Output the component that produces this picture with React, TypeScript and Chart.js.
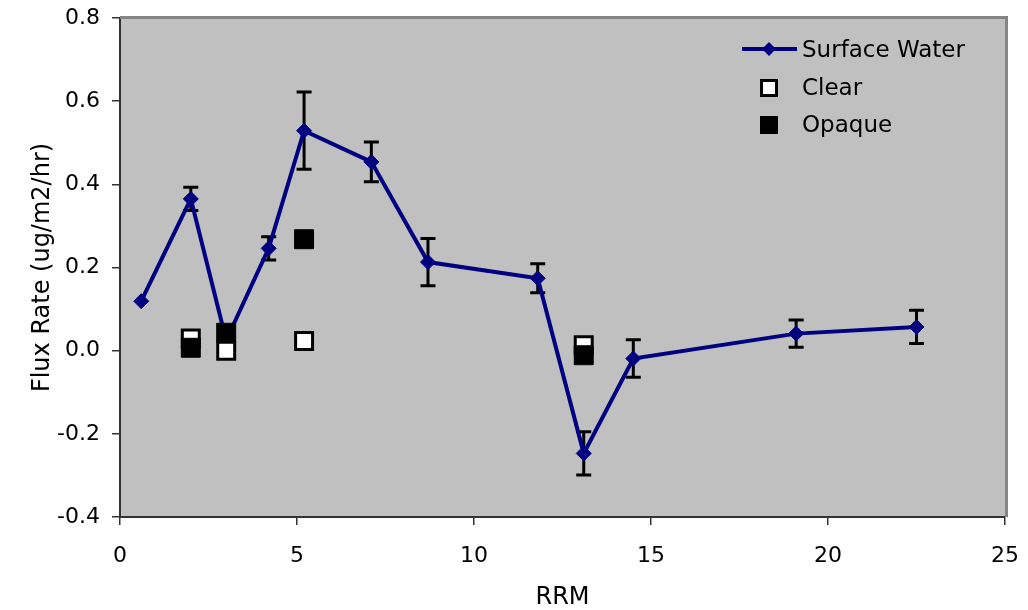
import React, { useEffect, useRef } from "react";
import { Chart, registerables } from "chart.js";

Chart.register(...registerables);

// ---- Data ----
const surfaceX = [0.6, 2.0, 3.0, 4.2, 5.2, 7.1, 8.7, 11.8, 13.1, 14.5, 19.1, 22.5];
const surfaceY = [0.119, 0.365, 0.025, 0.246, 0.529, 0.454, 0.213, 0.174, -0.247, -0.019, 0.041, 0.057];
const surfaceErr = [0, 0.028, 0.02, 0.028, 0.093, 0.048, 0.057, 0.035, 0.052, 0.045, 0.033, 0.04];

const clearX = [2.0, 3.0, 5.2, 13.1];
const clearY = [0.029, 0.0, 0.023, 0.013];

const opaqueX = [2.0, 3.0, 5.2, 13.1];
const opaqueY = [0.007, 0.043, 0.268, -0.011];

const xTicks = [0, 5, 10, 15, 20, 25];
const yTicks = [-0.4, -0.2, 0.0, 0.2, 0.4, 0.6, 0.8];

const seriesLabels = ["Surface Water", "Clear", "Opaque"];
const xTitle = "RRM";
const yTitle = "Flux Rate (ug/m2/hr)";

const FONT = "'DejaVu Sans', 'Liberation Sans', Arial, sans-serif";
const NAVY = "#000080";

const plotBgPlugin = {
  id: "plotBg",
  beforeDraw(chart: any) {
    const { ctx, chartArea } = chart;
    ctx.save();
    ctx.fillStyle = "#C0C0C0";
    ctx.fillRect(chartArea.left, chartArea.top, chartArea.right - chartArea.left, chartArea.bottom - chartArea.top);
    ctx.restore();
  },
  afterDraw(chart: any) {
    const { ctx, chartArea } = chart;
    ctx.save();
    ctx.strokeStyle = "#858585";
    ctx.lineWidth = 3;
    ctx.beginPath();
    ctx.moveTo(chartArea.left, chartArea.top - 0.5);
    ctx.lineTo(chartArea.right + 3, chartArea.top - 0.5);
    ctx.moveTo(chartArea.right + 1.5, chartArea.top - 2);
    ctx.lineTo(chartArea.right + 1.5, chartArea.bottom);
    ctx.stroke();
    ctx.restore();
  },
};

const errorBarPlugin = {
  id: "errorBars",
  beforeDatasetsDraw(chart: any) {
    const { ctx } = chart;
    const xs = chart.scales.x;
    const ys = chart.scales.y;
    ctx.save();
    ctx.strokeStyle = "#000";
    ctx.lineWidth = 3;
    surfaceX.forEach((xv, i) => {
      const e = surfaceErr[i];
      if (!e) return;
      const px = xs.getPixelForValue(xv);
      const top = ys.getPixelForValue(surfaceY[i] + e);
      const bot = ys.getPixelForValue(surfaceY[i] - e);
      ctx.beginPath();
      ctx.moveTo(px, top);
      ctx.lineTo(px, bot);
      ctx.moveTo(px - 7.5, top);
      ctx.lineTo(px + 7.5, top);
      ctx.moveTo(px - 7.5, bot);
      ctx.lineTo(px + 7.5, bot);
      ctx.stroke();
    });
    ctx.restore();
  },
};

const insideLegendPlugin = {
  id: "insideLegend",
  afterDraw(chart: any) {
    const { ctx, chartArea } = chart;
    const mx = chartArea.right - 236;
    const tx = chartArea.right - 203;
    const rows = [chartArea.top + 32, chartArea.top + 70, chartArea.top + 107];
    ctx.save();
    ctx.font = `23px ${FONT}`;
    ctx.textBaseline = "middle";
    ctx.textAlign = "left";
    chart.data.datasets.forEach((ds: any, i: number) => {
      const y = rows[i];
      if (i === 0) {
        ctx.strokeStyle = NAVY;
        ctx.lineWidth = 4;
        ctx.beginPath();
        ctx.moveTo(mx - 27, y - 1);
        ctx.lineTo(mx + 28, y - 1);
        ctx.stroke();
        ctx.fillStyle = NAVY;
        ctx.beginPath();
        ctx.moveTo(mx, y - 8);
        ctx.lineTo(mx + 7, y - 1);
        ctx.lineTo(mx, y + 6);
        ctx.lineTo(mx - 7, y - 1);
        ctx.closePath();
        ctx.fill();
      } else if (i === 1) {
        ctx.fillStyle = "#fff";
        ctx.fillRect(mx - 8, y - 8, 16, 16);
        ctx.strokeStyle = "#000";
        ctx.lineWidth = 3;
        ctx.strokeRect(mx - 7.5, y - 7.5, 15, 15);
      } else {
        ctx.fillStyle = "#000";
        ctx.fillRect(mx - 9, y - 9, 18, 18);
      }
      ctx.fillStyle = "#000";
      ctx.fillText(ds.label, tx, y + 1);
    });
    ctx.restore();
  },
};

export default function App() {
  const canvasRef = useRef<HTMLCanvasElement | null>(null);

  useEffect(() => {
    if (!canvasRef.current) return;
    const chart = new Chart(canvasRef.current, {
      type: "scatter",
      data: {
        datasets: [
          {
            label: seriesLabels[0],
            type: "line",
            data: surfaceX.map((x, i) => ({ x, y: surfaceY[i] })),
            borderColor: NAVY,
            backgroundColor: NAVY,
            borderWidth: 4,
            tension: 0,
            fill: false,
            showLine: true,
            pointStyle: "rectRot",
            pointRadius: 7.5,
            pointBorderWidth: 1,
            pointBackgroundColor: NAVY,
            pointBorderColor: NAVY,
            order: 2,
          } as any,
          {
            label: seriesLabels[1],
            data: clearX.map((x, i) => ({ x, y: clearY[i] })),
            pointStyle: "rect",
            pointRadius: 12,
            pointBorderWidth: 3,
            pointBackgroundColor: "#fff",
            pointBorderColor: "#000",
            backgroundColor: "#fff",
            borderColor: "#000",
            order: 1,
          },
          {
            label: seriesLabels[2],
            data: opaqueX.map((x, i) => ({ x, y: opaqueY[i] })),
            pointStyle: "rect",
            pointRadius: 13.4,
            pointBorderWidth: 1,
            pointBackgroundColor: "#000",
            pointBorderColor: "#000",
            backgroundColor: "#000",
            borderColor: "#000",
            order: 0,
          },
        ],
      },
      options: {
        animation: false,
        responsive: false,
        devicePixelRatio: 1,
        layout: { padding: { left: 0, top: 18, right: 23, bottom: 0 } },
        plugins: {
          legend: { display: false },
          tooltip: { enabled: false },
        },
        scales: {
          x: {
            type: "linear",
            min: 0,
            max: 25,
            afterBuildTicks: (s: any) => {
              s.ticks = xTicks.map((v) => ({ value: v }));
            },
            afterFit: (s: any) => {
              s.height = 93;
              s.paddingLeft = 0;
              s.paddingRight = 0;
            },
            grid: { drawOnChartArea: false, drawTicks: true, tickLength: 8, color: "#333", lineWidth: 1.5 },
            border: { display: true, color: "#333", width: 2 },
            ticks: {
              color: "#000",
              font: { family: FONT, size: 22 },
              padding: 18,
              maxRotation: 0,
              callback: (v: any) => String(v),
            },
            title: {
              display: true,
              text: xTitle,
              color: "#000",
              font: { family: FONT, size: 24 },
              padding: { top: 0, bottom: -2 },
            },
          },
          y: {
            type: "linear",
            min: -0.4,
            max: 0.8,
            afterBuildTicks: (s: any) => {
              s.ticks = yTicks.map((v) => ({ value: v }));
            },
            afterFit: (s: any) => {
              s.width = 120;
              s.paddingTop = 0;
              s.paddingBottom = 0;
            },
            grid: { drawOnChartArea: false, drawTicks: true, tickLength: 8, color: "#333", lineWidth: 1.5 },
            border: { display: true, color: "#333", width: 2 },
            ticks: {
              color: "#000",
              font: { family: FONT, size: 22 },
              padding: 12,
              callback: (v: any) => (Math.abs(Number(v)) < 1e-9 ? "0.0" : Number(v).toFixed(1)),
            },
            title: {
              display: true,
              text: yTitle,
              color: "#000",
              font: { family: FONT, size: 24 },
              padding: { top: 28, bottom: 0 },
            },
          },
        },
      },
      plugins: [plotBgPlugin, errorBarPlugin, insideLegendPlugin],
    } as any);
    return () => chart.destroy();
  }, []);

  return (
    <div style={{ position: "fixed", left: 0, top: 0, width: 1028, height: 610, background: "#fff" }}>
      <canvas ref={canvasRef} width={1028} height={610} style={{ display: "block" }} />
    </div>
  );
}
